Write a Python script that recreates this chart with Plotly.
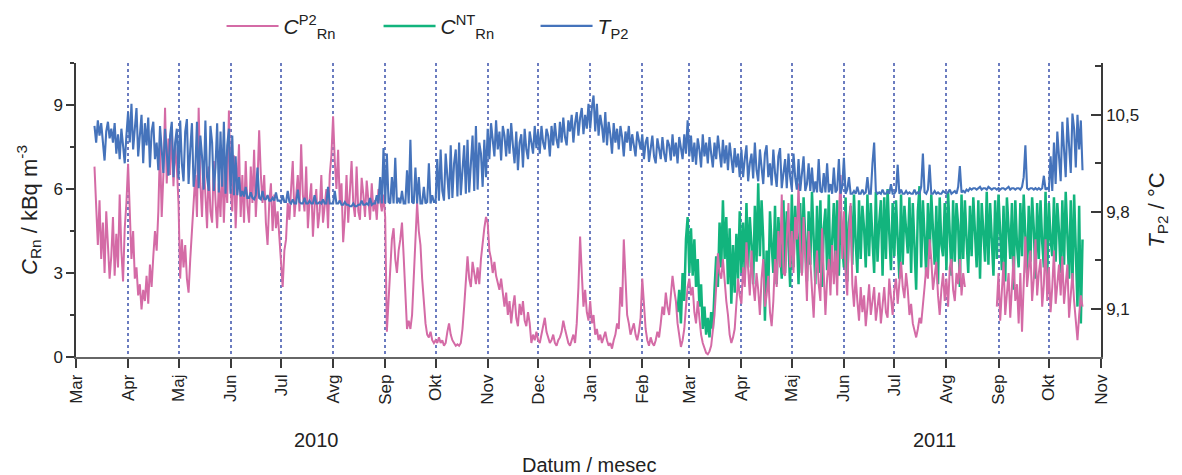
import plotly.graph_objects as go
import pandas as pd

# ---------------- data ----------------
MONTH_TICKS = ["2010-03-01", "2010-04-01", "2010-05-01", "2010-06-01", "2010-07-01",
               "2010-08-01", "2010-09-01", "2010-10-01", "2010-11-01", "2010-12-01",
               "2011-01-01", "2011-02-01", "2011-03-01", "2011-04-01", "2011-05-01",
               "2011-06-01", "2011-07-01", "2011-08-01", "2011-09-01", "2011-10-01",
               "2011-11-01"]
MONTH_LABELS = ["Mar", "Apr", "Maj", "Jun", "Jul", "Avg", "Sep", "Okt", "Nov", "Dec",
                "Jan", "Feb", "Mar", "Apr", "Maj", "Jun", "Jul", "Avg", "Sep", "Okt", "Nov"]
YEAR_LABELS = ["2010", "2011"]

# C_Rn^P2 (kBq m^-3): daily values, one row per month (row start date, values)
pink_rows = [
    ("2010-03-12", [6.8, 5.2, 4.0, 5.6, 3.5, 4.8, 3.0, 5.2, 4.2, 2.8, 3.6, 5.0, 2.9, 4.4, 3.2, 5.8, 3.8, 2.7, 4.6, 5.5]),
    ("2010-04-01", [6.9, 5.0, 3.5, 4.5, 2.8, 3.2, 2.2, 2.6, 1.7, 2.4, 2.0, 2.9, 1.9, 3.3, 2.5, 3.6, 4.5, 3.8, 5.2, 7.6,
                    5.0, 6.5, 8.9, 6.2, 7.8, 6.5, 8.2, 6.1, 7.5, 6.8]),
    ("2010-05-01", [5.5, 2.8, 4.2, 3.2, 4.0, 2.8, 2.3, 3.5, 4.5, 5.8, 6.5, 5.0, 8.9, 6.2, 5.0, 7.0, 5.5, 4.6, 6.8, 5.2,
                    4.8, 7.0, 5.6, 4.6, 6.2, 5.0, 7.0, 4.8, 6.5, 5.5, 8.8]),
    ("2010-06-01", [6.0, 5.2, 7.2, 4.6, 6.0, 7.6, 5.0, 6.5, 4.8, 7.0, 5.4, 4.8, 6.8, 5.5, 7.4, 5.0, 6.2, 8.1, 6.5, 5.5,
                    6.5, 4.8, 4.0, 5.5, 6.2, 4.5, 5.8, 4.6, 5.2, 4.4]),
    ("2010-07-01", [3.5, 2.5, 3.8, 4.2, 5.5, 4.9, 6.0, 7.0, 5.0, 5.8, 6.5, 5.2, 7.6, 5.8, 5.2, 6.8, 4.6, 5.6, 6.2, 4.3,
                    5.4, 6.0, 4.6, 5.2, 6.5, 4.8, 5.5, 6.0, 4.6, 6.5, 7.2]),
    ("2010-08-01", [8.6, 7.0, 6.0, 7.4, 5.5, 6.2, 4.1, 5.0, 6.5, 4.8, 5.8, 7.0, 5.5, 5.0, 6.8, 5.2, 4.9, 6.4, 5.8, 5.0,
                    6.3, 5.4, 4.9, 6.2, 5.2, 5.6, 4.9, 6.0, 5.5, 5.2, 5.8]),
    ("2010-09-01", [5.0, 0.9, 2.0, 3.0, 4.2, 4.6, 3.5, 3.0, 3.8, 4.2, 4.8, 3.6, 2.0, 1.0, 1.3, 1.0, 1.5, 3.0, 4.2, 5.5,
                    4.5, 4.0, 2.8, 2.0, 1.2, 0.8, 0.7, 0.9, 0.6, 0.5]),
    ("2010-10-01", [0.6, 0.5, 0.7, 0.5, 0.6, 0.4, 0.5, 0.9, 1.2, 0.8, 0.6, 0.5, 0.4, 0.45, 0.4, 0.5, 1.0, 1.8, 2.8, 3.6,
                    2.8, 2.5, 3.4, 3.0, 2.6, 3.2, 2.6, 3.5, 4.2, 4.6, 5.0]),
    ("2010-11-01", [4.8, 3.8, 3.5, 3.0, 3.4, 2.9, 2.6, 2.4, 2.8, 2.2, 1.8, 2.3, 1.5, 2.0, 1.2, 1.8, 2.2, 1.4, 1.1, 1.9,
                    1.5, 2.0, 1.3, 1.1, 1.6, 1.2, 0.5, 0.8, 0.6, 0.9]),
    ("2010-12-01", [0.6, 0.5, 0.8, 1.0, 1.4, 0.9, 0.7, 0.5, 0.6, 0.8, 0.5, 0.4, 0.6, 0.7, 0.9, 1.3, 1.0, 0.7, 0.5, 0.4,
                    0.6, 0.8, 0.5, 1.2, 2.5, 4.3, 3.0, 1.8, 2.4, 1.6, 1.3]),
    ("2011-01-01", [2.0, 1.2, 1.5, 0.8, 1.0, 0.6, 0.8, 0.5, 0.7, 0.9, 0.6, 0.4, 0.5, 0.3, 0.6, 0.8, 1.2, 1.0, 2.5, 1.8,
                    4.2, 2.6, 1.5, 1.2, 0.8, 1.0, 1.2, 0.8, 0.6, 0.9, 1.4]),
    ("2011-02-01", [2.8, 1.8, 1.0, 0.6, 0.4, 0.7, 0.5, 0.4, 0.6, 0.9, 0.7, 1.2, 1.8, 1.5, 2.3, 1.8, 1.5, 2.2, 2.9, 2.4,
                    2.0, 1.2, 0.8, 0.36, 0.6, 1.0, 1.8, 2.5]),
    ("2011-03-01", [2.8, 2.2, 2.5, 1.6, 1.2, 2.0, 1.4, 0.8, 0.5, 0.3, 0.15, 0.1, 0.2, 0.4, 1.0, 1.5, 2.5, 3.7, 3.0, 2.8,
                    3.5, 2.6, 2.0, 1.5, 0.8, 0.5, 0.7, 1.0, 1.8, 2.8, 2.2]),
    ("2011-04-01", [1.9, 3.2, 2.5, 4.1, 3.0, 2.2, 3.8, 2.6, 2.0, 3.0, 2.4, 1.5, 2.8, 3.5, 1.8, 2.2, 2.9, 1.6, 1.1, 2.0,
                    3.5, 2.5, 4.5, 3.2, 5.8, 3.0, 2.9, 4.2, 5.5, 3.2]),
    ("2011-05-01", [4.5, 3.0, 5.0, 4.2, 6.2, 3.8, 2.9, 5.0, 3.5, 2.0, 4.5, 3.2, 2.4, 1.4, 3.0, 3.8, 2.6, 2.0, 4.6, 3.0,
                    1.5, 2.8, 3.5, 2.2, 4.0, 2.6, 3.8, 2.2, 5.0, 6.5, 3.5]),
    ("2011-06-01", [5.2, 3.0, 2.2, 4.5, 5.5, 2.6, 1.8, 2.9, 2.0, 1.3, 2.5, 1.6, 2.2, 1.1, 1.8, 2.6, 1.5, 2.0, 2.5, 1.3,
                    1.9, 2.3, 1.2, 2.0, 2.5, 1.6, 1.4, 2.8, 2.0, 1.5]),
    ("2011-07-01", [2.4, 2.8, 1.9, 2.6, 3.4, 2.5, 2.1, 3.0, 2.4, 1.5, 1.9, 1.2, 0.9, 0.7, 1.0, 1.4, 1.2, 2.0, 2.5, 3.2,
                    2.8, 4.2, 3.5, 2.4, 3.0, 3.4, 2.2, 1.5, 2.4, 3.0, 2.0]),
    ("2011-08-01", [2.8, 1.8, 3.2, 3.5, 2.4, 2.0, 3.0, 2.6, 3.5, 2.2, 3.0, 2.5,
                    None, None, None, None, None, None, None, None, None, None, None, None, None, None, None, None,
                    None, None, 1.8]),
    ("2011-09-01", [3.0, 1.3, 2.5, 3.4, 1.5, 2.2, 3.0, 1.4, 2.8, 3.6, 2.0, 2.6, 1.2, 3.0, 0.9, 2.5, 4.3, 2.5, 3.2, 3.8,
                    2.0, 2.8, 4.2, 2.2, 3.0, 3.5, 1.8, 2.6, 4.2, 2.0]),
    ("2011-10-01", [3.2, 1.6, 2.5, 3.8, 1.9, 2.8, 3.3, 2.2, 3.6, 1.9, 2.6, 3.3, 1.4, 2.4, 3.0, 2.0, 1.2, 0.6, 1.5, 2.2,
                    1.8]),
]

# C_Rn^NT (kBq m^-3): daily values, one row per month
green_rows = [
    ("2011-02-22", [1.6, 2.4, 1.2, 3.0, 2.0, 4.2, 5.0]),
    ("2011-03-01", [3.0, 4.6, 2.9, 4.2, 2.5, 3.5, 1.8, 2.6, 1.0, 1.8, 0.8, 1.4, 0.7, 1.6, 1.0, 2.4, 3.6, 2.5, 4.8, 3.2,
                    5.6, 3.5, 5.0, 2.6, 4.6, 1.9, 4.0, 2.3, 4.4, 2.8, 5.2]),
    ("2011-04-01", [3.0, 4.8, 2.9, 5.5, 3.2, 5.0, 4.0, 2.6, 5.4, 3.4, 6.2, 3.6, 5.6, 4.2, 1.3, 3.8, 2.4, 5.2, 4.0, 3.0,
                    5.4, 2.6, 5.0, 3.6, 2.8, 5.6, 3.0, 5.2, 4.1, 2.5]),
    ("2011-05-01", [5.8, 3.2, 5.4, 4.4, 2.6, 5.5, 3.0, 5.7, 4.0, 2.7, 5.2, 3.3, 5.9, 4.5, 2.6, 5.4, 3.0, 5.6, 2.5, 4.6,
                    5.3, 3.1, 5.8, 2.8, 4.2, 5.5, 3.4, 5.6, 2.9, 5.2, 4.0]),
    ("2011-06-01", [3.2, 5.7, 2.7, 4.8, 5.4, 3.3, 5.8, 4.1, 3.0, 5.6, 3.5, 5.4, 4.6, 3.2, 5.8, 3.6, 5.5, 4.2, 3.0, 5.9,
                    3.4, 4.8, 5.6, 2.9, 5.7, 3.5, 6.0, 4.4, 3.1, 5.5]),
    ("2011-07-01", [3.6, 5.6, 4.0, 2.8, 5.8, 3.3, 5.4, 4.5, 3.7, 5.7, 3.0, 5.5, 4.2, 2.4, 5.2, 6.1, 3.2, 5.6, 4.3, 2.9,
                    5.5, 3.5, 5.8, 4.6, 3.3, 5.4, 2.6, 5.7, 4.0, 3.6, 5.5]),
    ("2011-08-01", [3.1, 5.9, 4.4, 2.9, 5.6, 3.4, 5.5, 4.7, 2.5, 5.8, 3.5, 5.6, 4.2, 3.0, 5.4, 3.6, 5.7, 4.1, 3.2, 5.6,
                    2.8, 5.5, 4.5, 3.4, 5.9, 3.3, 5.5, 4.0, 2.9, 5.6, 3.5]),
    ("2011-09-01", [5.8, 4.2, 3.1, 5.4, 2.7, 5.7, 4.4, 3.5, 5.5, 2.4, 5.6, 4.0, 3.2, 5.5, 3.6, 5.8, 4.3, 3.0, 5.4, 3.4,
                    5.7, 4.6, 2.8, 5.5, 3.5, 5.6, 4.1, 3.2, 5.9, 2.9]),
    ("2011-10-01", [5.5, 4.2, 3.6, 5.7, 3.4, 5.5, 4.5, 3.0, 5.6, 3.3, 5.9, 4.2, 2.8, 5.6, 2.5, 5.8, 3.5, 1.8, 5.4, 1.2,
                    4.2]),
]

# T_P2 (deg C): daily values, one row per month
blue_rows = [
    ("2010-03-12", [10.42, 10.30, 10.46, 10.35, 10.44, 10.28, 10.17, 10.38, 10.45, 10.33, 10.40, 10.30, 10.44, 10.22,
                    10.36, 10.18, 10.40, 10.28, 10.15, 10.35]),
    ("2010-04-01", [10.52, 10.30, 10.58, 10.25, 10.42, 10.55, 10.20, 10.35, 10.50, 10.15, 10.44, 10.28, 10.48, 10.12,
                    10.38, 10.45, 10.18, 10.30, 10.10, 10.42, 10.25, 10.08, 10.40, 10.20, 10.06, 10.35, 10.45, 10.05,
                    10.30, 10.40]),
    ("2010-05-01", [10.04, 10.46, 10.15, 10.02, 10.38, 10.47, 10.00, 10.25, 10.44, 9.98, 10.10, 10.45, 9.97, 10.35,
                    10.20, 9.96, 10.46, 10.05, 9.95, 10.42, 10.30, 9.95, 10.12, 10.44, 9.94, 10.38, 9.98, 10.45, 9.93,
                    10.28, 10.40]),
    ("2010-06-01", [9.93, 10.35, 9.92, 10.20, 9.92, 10.05, 9.91, 9.95, 9.91, 9.98, 9.90, 9.90, 9.94, 9.90, 9.89, 9.92,
                    10.12, 9.90, 9.89, 9.95, 9.89, 9.89, 9.92, 9.88, 9.88, 9.90, 9.88, 9.94, 9.88, 9.88]),
    ("2010-07-01", [9.87, 9.92, 9.87, 9.87, 9.95, 9.87, 9.86, 9.89, 9.86, 9.86, 9.96, 9.87, 9.86, 9.86, 9.90, 9.86,
                    9.86, 9.88, 9.86, 9.86, 9.92, 9.86, 9.86, 9.87, 9.86, 9.89, 9.86, 9.86, 9.98, 9.86, 9.86]),
    ("2010-08-01", [9.86, 9.95, 9.86, 9.86, 9.88, 9.85, 9.85, 9.87, 9.85, 9.85, 9.84, 9.84, 9.86, 9.84, 9.84, 9.85,
                    9.85, 9.88, 9.85, 9.85, 9.86, 9.85, 9.90, 9.85, 9.86, 9.86, 9.92, 9.86, 10.05, 9.86, 10.26]),
    ("2010-09-01", [9.86, 10.22, 9.87, 9.86, 10.05, 9.86, 10.19, 9.86, 9.90, 9.86, 9.95, 9.86, 9.86, 10.10, 9.86, 10.32,
                    9.87, 9.86, 10.12, 9.86, 10.05, 9.86, 9.86, 9.98, 9.86, 9.87, 10.15, 9.86, 9.92, 9.87]),
    ("2010-10-01", [9.87, 10.18, 9.88, 10.25, 9.95, 9.88, 10.22, 10.05, 9.89, 10.28, 9.90, 10.15, 10.25, 9.91, 10.30,
                    9.92, 10.10, 10.28, 9.93, 10.32, 9.94, 10.20, 10.35, 9.95, 10.42, 9.96, 10.30, 10.22, 9.98, 10.32,
                    10.05]),
    ("2010-11-01", [10.40, 10.18, 10.44, 10.30, 10.20, 10.46, 10.25, 10.38, 10.17, 10.42, 10.35, 10.20, 10.40, 10.22,
                    10.44, 10.28, 10.15, 10.38, 10.10, 10.30, 10.36, 10.12, 10.40, 10.25, 10.18, 10.38, 10.30, 10.22,
                    10.42, 10.26]),
    ("2010-12-01", [10.38, 10.22, 10.42, 10.30, 10.25, 10.40, 10.35, 10.20, 10.42, 10.28, 10.44, 10.32, 10.26, 10.45,
                    10.30, 10.48, 10.34, 10.28, 10.46, 10.38, 10.50, 10.30, 10.44, 10.52, 10.35, 10.48, 10.55, 10.36,
                    10.50, 10.40, 10.58]),
    ("2011-01-01", [10.40, 10.55, 10.64, 10.38, 10.58, 10.35, 10.50, 10.42, 10.30, 10.52, 10.28, 10.45, 10.36, 10.22,
                    10.44, 10.30, 10.40, 10.25, 10.42, 10.34, 10.20, 10.38, 10.30, 10.42, 10.24, 10.36, 10.28, 10.20,
                    10.38, 10.30, 10.25]),
    ("2011-02-01", [10.36, 10.18, 10.30, 10.34, 10.16, 10.28, 10.35, 10.20, 10.15, 10.33, 10.25, 10.18, 10.34, 10.22,
                    10.16, 10.32, 10.28, 10.17, 10.36, 10.20, 10.30, 10.15, 10.34, 10.25, 10.18, 10.36, 10.22, 10.46]),
    ("2011-03-01", [10.20, 10.35, 10.16, 10.30, 10.14, 10.33, 10.25, 10.12, 10.36, 10.20, 10.30, 10.15, 10.34, 10.22,
                    10.12, 10.30, 10.18, 10.35, 10.25, 10.12, 10.32, 10.15, 10.28, 10.10, 10.30, 10.20, 10.08, 10.26,
                    10.12, 10.22, 10.05]),
    ("2011-04-01", [10.25, 10.05, 10.18, 10.28, 10.02, 10.15, 10.22, 10.04, 10.30, 10.10, 10.02, 10.25, 10.12, 10.00,
                    10.22, 10.28, 10.05, 10.15, 9.99, 10.25, 10.08, 9.98, 10.20, 10.26, 9.97, 10.10, 10.18, 9.97,
                    10.22, 10.05]),
    ("2011-05-01", [9.96, 10.22, 10.05, 9.96, 10.18, 9.95, 10.10, 10.20, 9.95, 10.00, 10.15, 9.95, 10.12, 9.94, 10.02,
                    9.94, 10.18, 9.95, 9.94, 10.08, 9.94, 10.15, 9.94, 10.00, 9.93, 10.12, 9.94, 9.96, 10.18, 9.93,
                    9.98]),
    ("2011-06-01", [10.19, 9.93, 9.96, 10.05, 9.93, 9.93, 9.95, 9.93, 9.98, 9.93, 9.93, 9.96, 9.93, 9.94, 10.05, 9.93,
                    9.93, 10.15, 10.30, 9.95, 9.93, 9.94, 9.93, 9.96, 9.93, 9.93, 9.95, 9.93, 10.00, 9.93]),
    ("2011-07-01", [9.93, 9.95, 10.14, 9.93, 9.96, 9.93, 9.93, 9.95, 9.93, 9.94, 9.93, 9.93, 9.96, 9.93, 9.94, 9.93,
                    9.98, 10.22, 9.94, 9.93, 9.96, 10.14, 9.93, 9.93, 9.95, 9.93, 9.94, 9.93, 9.93, 9.95, 9.94]),
    ("2011-08-01", [9.93, 9.94, 9.96, 9.93, 9.94, 9.95, 9.93, 9.98, 10.13, 9.94, 9.95, 9.94, 9.96, 9.95, 9.97, 9.96,
                    9.97, 9.97, 9.96, 9.97, 9.98, 9.96, 9.97, 9.97, 9.96, 9.98, 9.97, 9.96, 9.97, 9.97, 9.96]),
    ("2011-09-01", [9.97, 9.96, 9.97, 9.97, 9.96, 9.97, 9.98, 9.96, 9.97, 9.97, 9.96, 9.97, 9.97, 9.96, 9.98, 10.05,
                    10.28, 9.97, 9.96, 9.97, 9.97, 9.96, 9.97, 9.96, 9.97, 9.96, 9.97, 10.06, 9.96, 9.97]),
    ("2011-10-01", [9.96, 10.20, 9.95, 10.30, 10.00, 10.38, 10.15, 10.02, 10.45, 10.20, 10.05, 10.48, 10.30, 10.08,
                    10.51, 10.40, 10.12, 10.50, 10.25, 10.46, 10.10]),
]


def rows_to_xy(rows):
    xs, ys = [], []
    for start, vals in rows:
        xs.extend(pd.date_range(start, periods=len(vals), freq="1D"))
        ys.extend(vals)
    return xs, ys


pink_x, pink_y = rows_to_xy(pink_rows)
green_x, green_y = rows_to_xy(green_rows)
blue_x, blue_y = rows_to_xy(blue_rows)

# ---------------- figure ----------------
PINK = "#D46BA6"
GREEN = "#12B47D"
BLUE = "#4573BB"
FONT = "Liberation Sans, Arial, sans-serif"
AX = "#3a3a3a"

fig = go.Figure()
fig.add_trace(go.Scatter(x=green_x, y=green_y, mode="lines", name="<i>C</i><sup>NT</sup><sub>Rn</sub>",
                         line=dict(color=GREEN, width=2.5), legendrank=2))
fig.add_trace(go.Scatter(x=blue_x, y=blue_y, mode="lines", name="<i>T</i><sub>P2</sub>",
                         line=dict(color=BLUE, width=2.1), yaxis="y2", legendrank=3))
fig.add_trace(go.Scatter(x=pink_x, y=pink_y, mode="lines", name="<i>C</i><sup>P2</sup><sub>Rn</sub>",
                         line=dict(color=PINK, width=2.0), connectgaps=False, legendrank=1))

fig.update_layout(
    width=1182, height=475,
    margin=dict(l=76, r=81, t=63, b=118, autoexpand=False),
    paper_bgcolor="white", plot_bgcolor="white",
    separators=", ",
    font=dict(family=FONT, size=15, color="#222"),
    showlegend=True,
    legend=dict(orientation="h", x=0.142, xanchor="left", y=1.125, yanchor="middle",
                font=dict(size=21, family=FONT, color="#222"),
                itemwidth=52, entrywidth=90, entrywidthmode="pixels",
                bgcolor="rgba(0,0,0,0)", traceorder="normal"),
    xaxis=dict(
        type="date", range=["2010-03-01", "2011-11-01"],
        tickmode="array", tickvals=MONTH_TICKS, ticktext=MONTH_LABELS,
        tickangle=-90, tickfont=dict(size=17, family=FONT, color="#222"),
        ticks="outside", ticklen=9, tickwidth=1.5, tickcolor=AX,
        showline=True, linecolor="#666", linewidth=1.5,
        showgrid=True, gridcolor="#6B7CC0", griddash="dot", gridwidth=1.5,
        zeroline=False,
    ),
    yaxis=dict(
        range=[0, 10.5], tick0=0, dtick=3,
        ticks="outside", ticklen=8, tickwidth=1.5, tickcolor=AX,
        minor=dict(dtick=1.5, tick0=0, ticks="outside", ticklen=4, tickcolor=AX, showgrid=False),
        showline=True, linecolor=AX, linewidth=1.5, showgrid=False, zeroline=False,
        tickfont=dict(size=17, family=FONT, color="#222"),
        title=dict(text="<i>C</i><sub>Rn</sub> / kBq m<sup>-3</sup>", font=dict(size=22, family=FONT, color="#222"),
                   standoff=10),
    ),
    yaxis2=dict(
        overlaying="y", side="right", anchor="x",
        range=[8.75, 10.875], tick0=9.1, dtick=0.7, tickformat=".1f",
        ticks="inside", ticklen=10, tickwidth=1.5, tickcolor=AX,
        minor=dict(dtick=0.35, tick0=9.1, ticks="inside", ticklen=6, tickcolor=AX, showgrid=False),
        showline=True, linecolor=AX, linewidth=1.5, showgrid=False, zeroline=False,
        tickfont=dict(size=17, family=FONT, color="#222"),
        title=dict(text="<i>T</i><sub>P2</sub> / °C", font=dict(size=22, family=FONT, color="#222"),
                   standoff=10),
    ),
)

fig.add_annotation(text=YEAR_LABELS[0], xref="x", yref="paper", x="2010-07-22", y=-0.282,
                   showarrow=False, font=dict(size=20, family=FONT, color="#222"), yanchor="middle")
fig.add_annotation(text=YEAR_LABELS[1], xref="x", yref="paper", x="2011-07-25", y=-0.282,
                   showarrow=False, font=dict(size=20, family=FONT, color="#222"), yanchor="middle")
fig.add_annotation(text="Datum / mesec", xref="paper", yref="paper", x=0.5, y=-0.367,
                   showarrow=False, font=dict(size=20, family=FONT, color="#222"), yanchor="middle")

fig.write_html("out.html", config={"displayModeBar": False},
               post_script="document.body.style.margin='0px';")
